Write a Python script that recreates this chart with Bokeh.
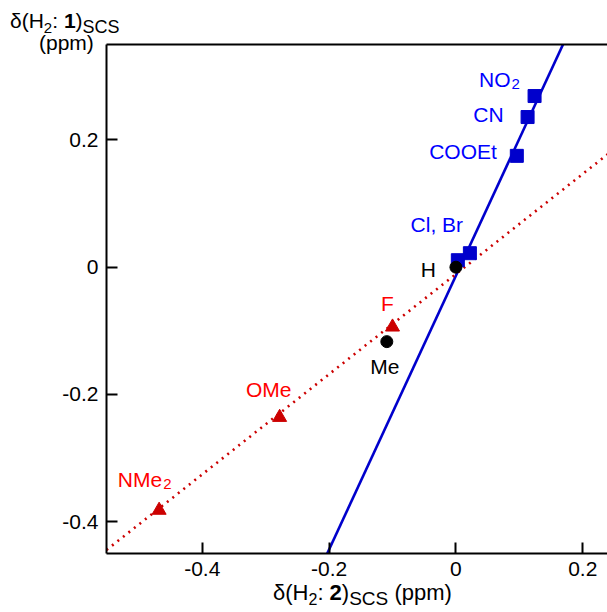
import numpy as np
from bokeh.plotting import figure
from bokeh.models import (Range1d, LinearAxis, FixedTicker, CustomJSTickFormatter, Div)
from bokeh.layouts import column
from bokeh.embed import file_html
from bokeh.resources import INLINE
from bokeh.core.properties import value

# ---------------- data ----------------
acc_names = ["NO2", "CN", "COOEt", "Cl", "Br"]
acc_x = [0.124, 0.113, 0.096, 0.003, 0.022]
acc_y = [0.269, 0.236, 0.175, 0.011, 0.022]

ref_names = ["H", "Me"]
ref_x = [0.0, -0.109]
ref_y = [0.0, -0.117]

don_names = ["F", "OMe", "NMe2"]
don_x = [-0.100, -0.278, -0.468]
don_y = [-0.094, -0.236, -0.382]

fit_blue = [2.152, -0.0133]   # slope, intercept
fit_red = [0.787, -0.0108]

x_ticks = [-0.4, -0.2, 0.0, 0.2]
y_ticks = [-0.4, -0.2, 0.0, 0.2]
x_lim = [-0.551, 0.239]
y_lim = [-0.45, 0.35]

# ---------------- style ----------------
FONT = "Liberation Sans"
FS = 21
BLUE_M = "#0000CC"
BLUE_T = "#0000FF"
RED_M = "#CC0000"
RED_T = "#FF0000"

p = figure(width=607, height=612, output_backend="svg", toolbar_location=None,
           x_range=Range1d(*x_lim), y_range=Range1d(*y_lim),
           x_axis_location=None, y_axis_location=None,
           min_border_left=106, min_border_top=44, min_border_bottom=59,
           min_border_right=0, outline_line_color=None)
p.grid.visible = False
p.background_fill_color = "white"
p.border_fill_color = "white"

fmt = CustomJSTickFormatter(code="""
const v = Math.round(tick*10)/10;
return v == 0 ? '0' : v.toString();
""")

def style_axis(ax, ticks, standoff):
    ax.ticker = FixedTicker(ticks=ticks)
    ax.formatter = fmt
    ax.major_tick_in = 11
    ax.major_tick_out = 0
    ax.minor_tick_in = 0
    ax.minor_tick_out = 0
    ax.axis_line_width = 2
    ax.major_tick_line_width = 2
    ax.axis_line_color = "black"
    ax.major_tick_line_color = "black"
    ax.major_label_text_font = FONT
    ax.major_label_text_font_size = f"{FS}px"
    ax.major_label_text_color = "black"
    ax.major_label_standoff = standoff

xa = LinearAxis()
style_axis(xa, x_ticks, 8)
p.add_layout(xa, "below")
ya = LinearAxis()
style_axis(ya, y_ticks, 8)
p.add_layout(ya, "left")
top = LinearAxis()
style_axis(top, [], 0)
top.major_label_text_font_size = "0px"
p.add_layout(top, "above")

# fit lines
lx = np.array(x_lim)
p.line(lx, fit_blue[0] * lx + fit_blue[1], line_color=BLUE_M, line_width=2.6)
p.line(lx, fit_red[0] * lx + fit_red[1], line_color=RED_M, line_width=2.6,
       line_dash="2 5")

# markers
p.scatter(acc_x, acc_y, marker="square", size=13, fill_color=BLUE_M, line_color=BLUE_M)
p.scatter(ref_x, ref_y, marker="circle", size=12, fill_color="black", line_color="black")
p.scatter(don_x, don_y, marker="triangle", size=14, fill_color=RED_M, line_color=RED_M)

# point labels: (main, sub, anchor x, anchor y, align, dx, dy, color)
def pt(names, xs, ys, n):
    i = names.index(n)
    return xs[i], ys[i]

LIFT = -8
lab = []
x0, y0 = pt(acc_names, acc_x, acc_y, "NO2"); lab.append(("NO", "2", x0, y0, "right", -24, -9, BLUE_T))
x0, y0 = pt(acc_names, acc_x, acc_y, "CN"); lab.append(("CN", "", x0, y0, "right", -24, 5, BLUE_T))
x0, y0 = pt(acc_names, acc_x, acc_y, "COOEt"); lab.append(("COOEt", "", x0, y0, "right", -20, 4, BLUE_T))
x0, y0 = pt(acc_names, acc_x, acc_y, "Cl"); lab.append(("Cl, Br", "", x0, y0, "center", -21, -28, BLUE_T))
x0, y0 = pt(ref_names, ref_x, ref_y, "H"); lab.append(("H", "", x0, y0, "right", -20, 10, "black"))
x0, y0 = pt(ref_names, ref_x, ref_y, "Me"); lab.append(("Me", "", x0, y0, "center", -2, 33, "black"))
x0, y0 = pt(don_names, don_x, don_y, "F"); lab.append(("F", "", x0, y0, "center", -5, -15, RED_T))
x0, y0 = pt(don_names, don_x, don_y, "OMe"); lab.append(("OMe", "", x0, y0, "center", -11, -20, RED_T))
x0, y0 = pt(don_names, don_x, don_y, "NMe2"); lab.append(("NMe", "2", x0, y0, "right", 3, -23, RED_T))

for main, sub, ax_, ay_, al, dx, dy, col in lab:
    p.text([ax_], [ay_], text=[main], x_offset=dx, y_offset=dy + LIFT, text_align=al,
           text_baseline="alphabetic", text_font=value(FONT),
           text_font_size=f"{FS}px", text_color=col)
    if sub:
        p.text([ax_], [ay_], text=[sub], x_offset=dx + 1, y_offset=dy + 5 + LIFT,
               text_align="left", text_baseline="alphabetic", text_font=value(FONT),
               text_font_size="15px", text_color=col)

# rich axis titles as HTML overlays
def title_html(num, fs, fsub, fscs, tail=""):
    sub2 = f'<span style="font-size:{fsub}px;position:relative;top:5px">2</span>'
    scs = f'<span style="font-size:{fscs}px;position:relative;top:5px">SCS</span>'
    return (f'<div style="font-family:\'Liberation Sans\';font-size:{fs}px;line-height:{fs}px;'
            'color:black;white-space:nowrap;margin:0;padding:0">'
            f'δ(H{sub2}: <b>{num}</b>){scs}{tail}</div>')

def overlay(html, left, top, w, h, fs):
    return Div(text=html, width=w, height=h,
               styles={"position": "absolute", "left": f"{left}px", "top": f"{top}px",
                       "z-index": "10", "margin": "0", "padding": "0",
                       "font-family": FONT, "font-size": f"{fs}px",
                       "line-height": f"{fs}px"})

div_x = overlay(title_html("2", 22, 16, 19, " (ppm)"), 273, 582, 200, 26, 22)
div_y1 = overlay(title_html("1", 21, 15, 18), 10, 10, 130, 22, 21)
div_y2 = overlay('<div style="font-family:\'Liberation Sans\';font-size:21px;'
                 'line-height:21px;color:black;white-space:nowrap">(ppm)</div>',
                 39, 32, 70, 22, 21)

page = column(p, div_x, div_y1, div_y2)
open("out.html", "w").write(file_html(page, INLINE))
